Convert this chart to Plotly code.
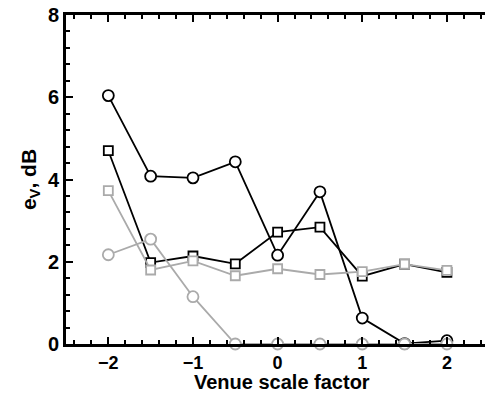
import plotly.graph_objects as go

# Venue scale factors (x) and error values e_V in dB for four configurations
scale = [-2, -1.5, -1, -0.5, 0, 0.5, 1, 1.5, 2]
black_circles = [6.04, 4.08, 4.04, 4.43, 2.16, 3.70, 0.63, 0.01, 0.08]
black_squares = [4.70, 1.98, 2.14, 1.95, 2.72, 2.84, 1.65, 1.94, 1.74]
gray_squares = [3.73, 1.80, 2.02, 1.66, 1.83, 1.69, 1.76, 1.94, 1.79]
gray_circles = [2.17, 2.55, 1.15, 0.0, 0.0, 0.0, 0.0, 0.0, 0.0]

BLACK = "#000000"
GRAY = "#aaaaaa"
FONT = "Liberation Sans, Arial, Helvetica, sans-serif"

fig = go.Figure()


def add_series(y, color, symbol, size):
    fig.add_trace(go.Scatter(
        x=scale, y=y, mode="lines+markers",
        line=dict(color=color, width=1.8),
        marker=dict(symbol=symbol, size=size, color="white",
                    line=dict(color=color, width=1.8)),
        cliponaxis=False, showlegend=False,
    ))


add_series(black_circles, BLACK, "circle", 11)
add_series(black_squares, BLACK, "square", 9)
add_series(gray_squares, GRAY, "square", 9)
add_series(gray_circles, GRAY, "circle", 11)

# x-axis title placed just below the tick labels
fig.add_annotation(
    text="<b>Venue scale factor</b>", xref="x", yref="paper",
    x=0.05, y=0, xanchor="center", yanchor="top", yshift=-25,
    showarrow=False, font=dict(size=20),
)

fig.update_layout(
    width=485, height=394,
    margin=dict(l=66, r=0, t=15, b=50),
    paper_bgcolor="white", plot_bgcolor="white",
    font=dict(family=FONT, size=20, color="black"),
    xaxis=dict(
        range=[-2.5, 2.45], tickvals=[-2, -1, 0, 1, 2],
        ticktext=["<b>\u22122</b>", "<b>\u22121</b>", "<b>0</b>", "<b>1</b>", "<b>2</b>"],
        ticks="inside", ticklen=7, tickwidth=2, tickcolor="black",
        minor=dict(dtick=0.2, tick0=0, ticks="inside", ticklen=4, tickwidth=2, tickcolor="black"),
        showline=True, linewidth=3, linecolor="black", mirror="ticks",
        showgrid=False, zeroline=False,
        tickfont=dict(size=18), ticklabelstandoff=0,
    ),
    yaxis=dict(
        range=[0, 8], tickvals=[0, 2, 4, 6, 8],
        ticktext=["<b>0</b>", "<b>2</b>", "<b>4</b>", "<b>6</b>", "<b>8</b>"],
        ticks="inside", ticklen=7, tickwidth=2, tickcolor="black",
        minor=dict(dtick=0.4, tick0=0, ticks="inside", ticklen=4, tickwidth=2, tickcolor="black"),
        showline=True, linewidth=3, linecolor="black",
        showgrid=False, zeroline=False,
        title=dict(text="<b>e<sub>V</sub>, dB</b>", font=dict(size=21), standoff=6),
        tickfont=dict(size=20),
    ),
)

fig.write_html("out.html")
